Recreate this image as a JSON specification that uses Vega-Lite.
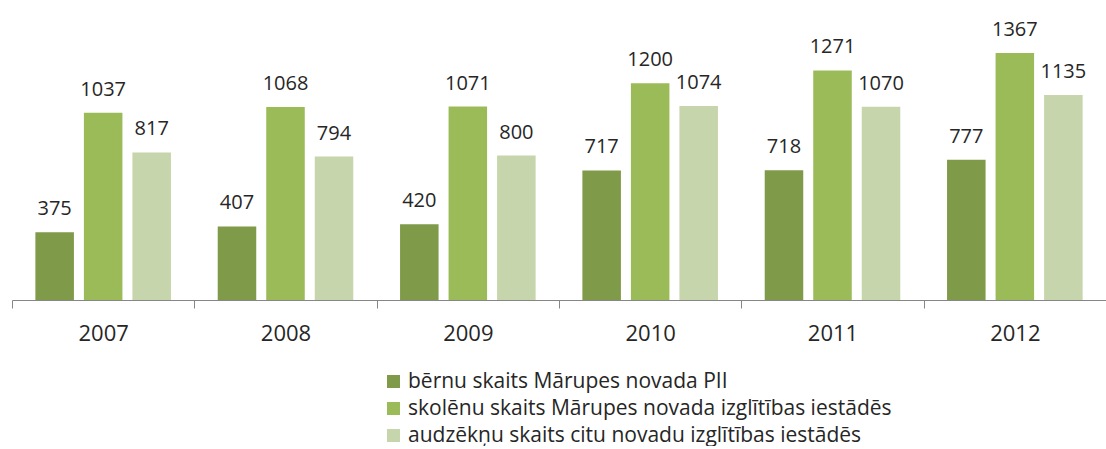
{
  "$schema": "https://vega.github.io/schema/vega-lite/v6.json",
  "width": 1094,
  "height": 289,
  "padding": {"left": 11, "top": 11, "right": 1, "bottom": 0},
  "background": "white",
  "config": {"view": {"stroke": null}, "font": "Open Sans"},
  "data": {"values": [
    {"year": "2007", "series": "bērnu skaits Mārupes novada PII", "value": 375},
    {"year": "2007", "series": "skolēnu skaits Mārupes novada izglītības iestādēs", "value": 1037},
    {"year": "2007", "series": "audzēkņu skaits citu novadu izglītības iestādēs", "value": 817},
    {"year": "2008", "series": "bērnu skaits Mārupes novada PII", "value": 407},
    {"year": "2008", "series": "skolēnu skaits Mārupes novada izglītības iestādēs", "value": 1068},
    {"year": "2008", "series": "audzēkņu skaits citu novadu izglītības iestādēs", "value": 794},
    {"year": "2009", "series": "bērnu skaits Mārupes novada PII", "value": 420},
    {"year": "2009", "series": "skolēnu skaits Mārupes novada izglītības iestādēs", "value": 1071},
    {"year": "2009", "series": "audzēkņu skaits citu novadu izglītības iestādēs", "value": 800},
    {"year": "2010", "series": "bērnu skaits Mārupes novada PII", "value": 717},
    {"year": "2010", "series": "skolēnu skaits Mārupes novada izglītības iestādēs", "value": 1200},
    {"year": "2010", "series": "audzēkņu skaits citu novadu izglītības iestādēs", "value": 1074},
    {"year": "2011", "series": "bērnu skaits Mārupes novada PII", "value": 718},
    {"year": "2011", "series": "skolēnu skaits Mārupes novada izglītības iestādēs", "value": 1271},
    {"year": "2011", "series": "audzēkņu skaits citu novadu izglītības iestādēs", "value": 1070},
    {"year": "2012", "series": "bērnu skaits Mārupes novada PII", "value": 777},
    {"year": "2012", "series": "skolēnu skaits Mārupes novada izglītības iestādēs", "value": 1367},
    {"year": "2012", "series": "audzēkņu skaits citu novadu izglītības iestādēs", "value": 1135}
  ]},
  "encoding": {
    "x": {
      "field": "year", "type": "nominal",
      "scale": {"paddingInner": 0, "paddingOuter": 0},
      "axis": {
        "title": null, "labelAngle": 0, "tickBand": "extent",
        "domainColor": "#868686", "tickColor": "#868686", "tickSize": 8,
        "labelFontSize": 22, "labelColor": "#262626", "labelPadding": 15,
        "labelFont": "Open Sans"
      }
    },
    "xOffset": {
      "field": "series", "type": "nominal",
      "sort": ["bērnu skaits Mārupes novada PII", "skolēnu skaits Mārupes novada izglītības iestādēs", "audzēkņu skaits citu novadu izglītības iestādēs"],
      "scale": {"paddingInner": 0.206, "paddingOuter": 0.482}
    },
    "y": {
      "field": "value", "type": "quantitative",
      "scale": {"domain": [0, 1600], "nice": false},
      "axis": null
    }
  },
  "layer": [
    {
      "mark": {"type": "bar"},
      "encoding": {
        "color": {
          "field": "series", "type": "nominal",
          "sort": ["bērnu skaits Mārupes novada PII", "skolēnu skaits Mārupes novada izglītības iestādēs", "audzēkņu skaits citu novadu izglītības iestādēs"],
          "scale": {"range": ["#7F9A48", "#9BBB59", "#C6D5AB"]},
          "legend": {
            "title": null, "orient": "none", "legendX": 371, "legendY": 360,
            "direction": "vertical", "symbolType": "square", "symbolSize": 169,
            "symbolStrokeWidth": 0, "labelFontSize": 21, "labelColor": "#262626",
            "labelFont": "Open Sans", "rowPadding": 5, "labelOffset": 4, "padding": 0,
            "labelLimit": 0
          }
        }
      }
    },
    {
      "mark": {"type": "text", "baseline": "alphabetic", "dy": -17, "fontSize": 20, "color": "#262626", "font": "Open Sans"},
      "encoding": {
        "text": {"field": "value", "type": "quantitative"}
      }
    }
  ]
}
